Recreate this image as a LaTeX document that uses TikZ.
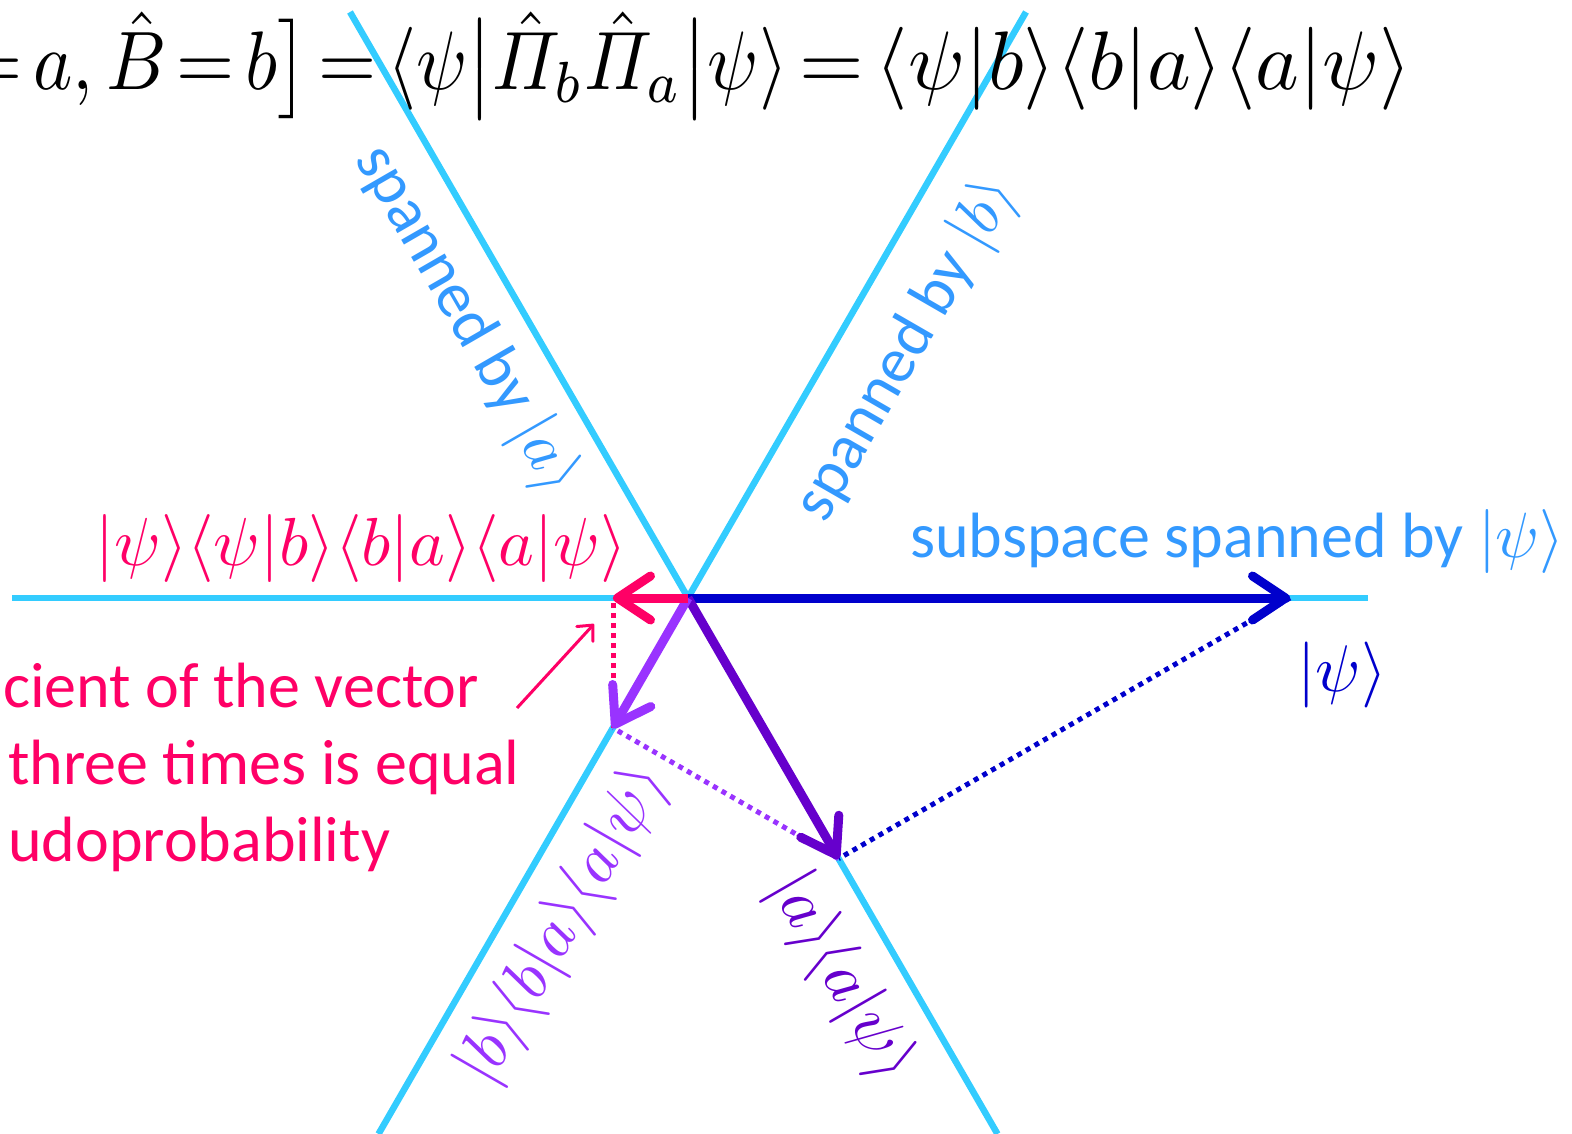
\documentclass[tikz,border=0pt]{standalone}
\usepackage{amsmath}
\usepackage{graphicx}
\usepackage{fontspec}
\newfontfamily\calib{Carlito}
\usetikzlibrary{arrows.meta}
\definecolor{cyanl}{HTML}{33CCFF}
\definecolor{lblue}{HTML}{3399FF}
\definecolor{dblue}{HTML}{0000CC}
\definecolor{apurp}{HTML}{6600CC}
\definecolor{bviol}{HTML}{9933FF}
\definecolor{pinkc}{HTML}{FF0066}
\newcommand\Sc[2]{\scalebox{#1}{#2}}
\begin{document}
\begin{tikzpicture}[x=1pt,y=-1pt,
  axisline/.style={cyanl, line width=6.5pt},
  vec/.style={line width=9pt, -{Straight Barb[length=33pt,width=44pt,round]}},
  proj/.style={line width=5pt, dash pattern=on 5pt off 5pt},
  lbl/.style={inner sep=0pt, font=\calib},
  mlbl/.style={inner sep=0pt}]
\useasboundingbox (0,0) rectangle (1572,1134);
% geometry
\coordinate (O) at (688,598);
\coordinate (P) at (1290,598);
\coordinate (A) at (838.5,858.7);
\coordinate (B) at (613,728);
\coordinate (H) at (613,598);
\coordinate (hl) at (12,598);
\coordinate (hr) at (1368,598);
\coordinate (at) at (350,12);
\coordinate (ab) at (997.5,1134);
\coordinate (bt) at (1026,12);
\coordinate (bb) at (378.5,1134);
\coordinate (s1) at (517,708);
\coordinate (s2) at (594,624);
% subspace lines
\draw[axisline] (hl) -- (hr);
\draw[axisline] (at) -- (ab);
\draw[axisline] (bt) -- (bb);
% projections
\draw[proj, dblue] (P) -- (A);
\draw[proj, bviol] (A) -- (B);
\draw[proj, pinkc] (B) -- (H);
% vectors
\draw[vec, dblue] (O) -- (P);
\draw[vec, apurp] (O) -- (A);
\draw[vec, bviol] (O) -- (B);
\draw[vec, pinkc] (O) -- (H);
\draw[pinkc, line width=3pt, -{Straight Barb[length=12pt,width=22pt,round]}] (s1) -- (s2);
% labels
\node[inner sep=0pt, anchor=base east] (eq) at (1412,90)
  {\Sc{8.3}{$\thickmuskip=2.5mu \scalebox{0.9}[1]{$\thickmuskip=2.5mu = a, \hat{B} = b\bigr] = \langle\psi\big|\hat{\varPi}_b\hat{\varPi}_a\big|\psi\rangle$} = \langle\psi|b\rangle\langle b|a\rangle\langle a|\psi\rangle$}};
\node[lbl, text=lblue, rotate=-60] (la) at (466,320) {\Sc{6.4}{spanned by $|a\rangle$}};
\node[lbl, text=lblue, rotate=60] (lb) at (907,350) {\Sc{6.4}{spanned by $|b\rangle$}};
\node[lbl, text=lblue, anchor=base west] (lp) at (910,557) {\Sc{6.4}{subspace spanned by $|\psi\rangle$}};
\node[mlbl, text=dblue] (lpsi) at (1342,675) {\Sc{6.6}{$|\psi\rangle$}};
\node[mlbl, text=pinkc] (lh) at (361,548) {\Sc{6.8}{$|\psi\rangle\langle\psi|b\rangle\langle b|a\rangle\langle a|\psi\rangle$}};
\node[mlbl, text=bviol, rotate=60] (lbv) at (564,925) {\Sc{6.6}{$|b\rangle\langle b|a\rangle\langle a|\psi\rangle$}};
\node[mlbl, text=apurp, rotate=-60] (lav) at (841,977) {\Sc{6.6}{$|a\rangle\langle a|\psi\rangle$}};
\node[lbl, text=pinkc, anchor=base west] (t1) at (3,707) {\Sc{6.4}{cient of the vector}};
\node[lbl, text=pinkc, anchor=base west] (t2) at (8,784) {\Sc{6.4}{three times is equal}};
\node[lbl, text=pinkc, anchor=base west] (t3) at (8,861) {\Sc{6.4}{udoprobability}};
\end{tikzpicture}
\end{document}
